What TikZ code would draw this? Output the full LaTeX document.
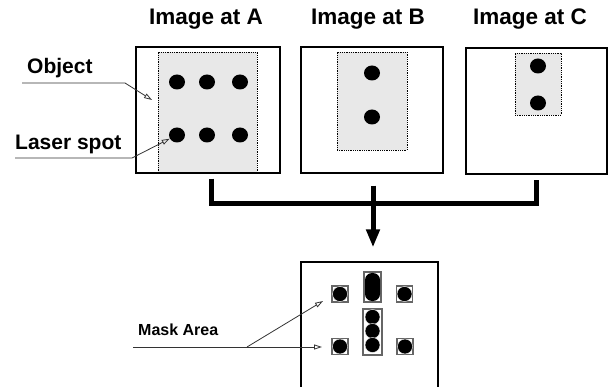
\documentclass[tikz,border=0pt]{standalone}
\usepackage{fontspec}
\setmainfont{Liberation Sans}
\usepackage{tikz}
\usetikzlibrary{calc}
\usetikzlibrary{positioning}
\usetikzlibrary{shapes}
\usetikzlibrary{arrows.meta}

\begin{document}
\begin{tikzpicture}[x=1pt, y=-1pt,
	frame/.style={rectangle, draw, line width=1.2pt, inner sep=0pt},
	area/.style={rectangle, draw, densely dotted, line width=0.8pt, fill=gray!18, inner sep=0pt},
	spot/.style={ellipse, fill=black, inner sep=0pt, minimum width=16pt, minimum height=15pt},
	maskbox/.style={rectangle, draw=black!60, line width=1.2pt, fill=white, inner sep=0pt},
	maskspot/.style={circle, fill=black, draw=white, line width=0.4pt, inner sep=0pt, minimum size=15pt},
	title/.style={font=\fontsize{22.5}{26}\selectfont\bfseries, anchor=base},
	label/.style={font=\fontsize{21}{25}\selectfont\bfseries, anchor=base west, inner sep=0pt},
	bus/.style={line width=5pt},
	pointer/.style={draw=black!80, line width=0.8pt, -{Triangle[open, length=8pt, width=5pt]}}]
				\useasboundingbox (0,0) rectangle (610,387);
				
				% the three images
				\node[area, minimum width=99pt, minimum height=121pt] (objA) at (207.5,112.5) {};
				\node[area, minimum width=70pt, minimum height=98pt] (objB) at (372,101) {};
				\node[area, minimum width=46pt, minimum height=62pt] (objC) at (538,84) {};
				\node[frame, minimum width=144pt, minimum height=126pt] (A) at (208,110) {};
				\node[frame, minimum width=142pt, minimum height=126pt] (B) at (372,110) {};
				\node[frame, minimum width=141pt, minimum height=126pt] (C) at (536.5,111) {};
				
				\node[title] (tA) at (206,25) {Image at A};
				\node[title] (tB) at (368,25) {Image at B};
				\node[title] (tC) at (530,25) {Image at C};
				
				\foreach \x in {177,207,240}
					\foreach \y in {82,135}
						\node[spot] (a-\x-\y) at (\x,\y) {};
				\node[spot] (b1) at (372,73) {};
				\node[spot] (b2) at (372,117) {};
				\node[spot] (c1) at (538,66) {};
				\node[spot] (c2) at (538,103) {};
				
				% labels on the left
				\node[label] (obj) at (27,74) {Object};
				\coordinate (obj-l) at (22,83);
				\coordinate (obj-k) at (125,83);
				\coordinate (obj-t) at (152,100);
				\draw[pointer] (obj-l) -- (obj-k) -- (obj-t);
				
				\node[label] (las) at (15,150) {Laser spot};
				\coordinate (las-l) at (15,158);
				\coordinate (las-k) at (132,158);
				\draw[pointer] (las-l) -- (las-k) -- (a-177-135);
				
				% combine
				\coordinate (join) at (373,204);
				\draw[bus] ([xshift=3pt,yshift=-5pt]A.south) |- (join) -| ([yshift=-5pt]C.south);
				
				% mask
				\node[frame, minimum width=137pt, minimum height=140pt] (M) at (369.5,332) {};
				\draw[bus, -{Triangle[length=18pt, width=13pt]}] ([xshift=1pt,yshift=-12pt]B.south) -- ([xshift=1pt,yshift=14pt]B.south |- M.north);
				
				\node[maskbox, minimum width=16pt, minimum height=16pt] (m1) at (340,294) {};
				\node[maskbox, minimum width=17pt, minimum height=30pt] (m2) at (372.5,287) {};
				\node[maskbox, minimum width=16pt, minimum height=16pt] (m3) at (404.5,294) {};
				\node[maskbox, minimum width=16pt, minimum height=16pt] (m4) at (340,346.5) {};
				\node[maskbox, minimum width=19pt, minimum height=46pt] (m5) at (372.5,332) {};
				\node[maskbox, minimum width=16pt, minimum height=16pt] (m6) at (405,346.5) {};
				
				\node[maskspot] at (m1) {};
				\node[rectangle, rounded corners=7pt, fill=black, minimum width=15pt, minimum height=28pt, inner sep=0pt] (m2s) at (m2) {};
				\node[maskspot] at (m3) {};
				\node[maskspot] at (m4) {};
				\foreach \y in {317,331,345}
					\node[maskspot] (s-\y) at (372.5,\y) {};
				\node[maskspot] at (m6) {};
				
				\node[label, font=\fontsize{16}{19}\selectfont\bfseries] (mask) at (138,335) {Mask Area};
				\coordinate (mask-l) at (133,347);
				\coordinate (mask-k) at (247,347);
				\coordinate (mask-t1) at (323,301);
				\coordinate (mask-t2) at (322,347);
				\draw[pointer] (mask-l) -- (mask-t2);
				\draw[pointer] (mask-k) -- (mask-t1);
			\end{tikzpicture}
\end{document}
